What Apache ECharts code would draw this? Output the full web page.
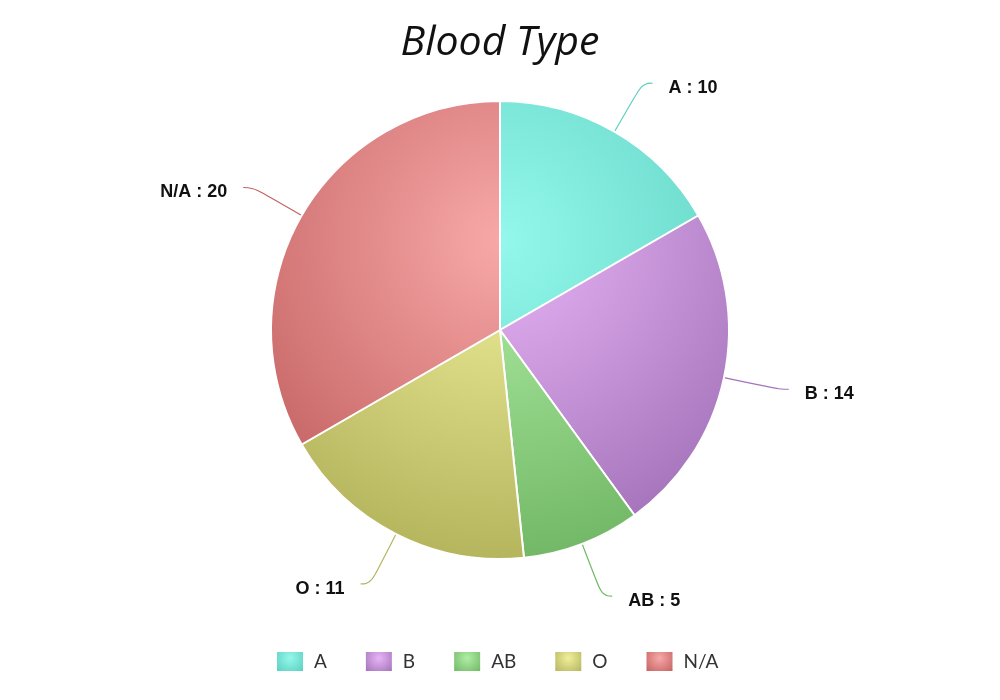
<!DOCTYPE html>
<html><head><meta charset="utf-8">
<script src="https://cdn.jsdelivr.net/npm/echarts@6/dist/echarts.min.js"></script>
<style>html,body{margin:0;padding:0;background:#fff}#c{width:1000px;height:700px}</style>
</head><body><div id="c"></div>
<script>
const categories = ['A', 'B', 'AB', 'O', 'N/A'];
const values = [10, 14, 5, 11, 20];
const innerColors = ['#94f8ec', '#e8b6f6', '#b0eea6', '#f0f09c', '#f8a8a8'];
const outerColors = ['#5ccfc0', '#a472b9', '#72b866', '#b5b55e', '#c46262'];
const titleText = 'Blood Type';

const cx = 500, cy = 330, R = 229;
function grad(i) {
  return { type: 'radial', x: cx, y: 240, r: 320, global: true,
    colorStops: [{ offset: 0, color: innerColors[i] }, { offset: 1, color: outerColors[i] }] };
}
function legendGrad(i) {
  return { type: 'radial', x: 0.5, y: 0.35, r: 0.8,
    colorStops: [{ offset: 0, color: innerColors[i] }, { offset: 1, color: outerColors[i] }] };
}
const data = categories.map((c, i) => ({
  name: c, value: values[i],
  itemStyle: { color: grad(i) },
  labelLine: { lineStyle: { color: outerColors[i] } }
}));
const chart = echarts.init(document.getElementById('c'));
chart.setOption({
  animation: false,
  title: { text: titleText, left: 'center', top: 18,
    textStyle: { fontFamily: 'Open Sans', fontStyle: 'italic', fontWeight: 'normal', fontSize: 41, color: '#111' } },
  legend: {
    top: 645, left: 270, itemWidth: 28, itemHeight: 21, itemGap: 37,
    icon: 'rect',
    textStyle: { fontFamily: 'Lato', fontSize: 19, color: '#333', padding: [0, 0, 0, 5] },
    data: categories.map((c, i) => ({ name: c, itemStyle: { color: legendGrad(i) } }))
  },
  series: [{
    type: 'pie', center: [cx, cy], radius: R, startAngle: 90, clockwise: true,
    itemStyle: { borderColor: '#fff', borderWidth: 2 },
    label: { formatter: '{b} : {c}', fontFamily: 'Liberation Sans', fontWeight: 'bold', fontSize: 18, color: '#111',
      distanceToLabelLine: 16 },
    labelLine: { length: 56, length2: 10, smooth: 0.5, lineStyle: { width: 1.2 } },
    labelLayout: { dy: 5 },
    data: data
  }]
});
</script></body></html>
